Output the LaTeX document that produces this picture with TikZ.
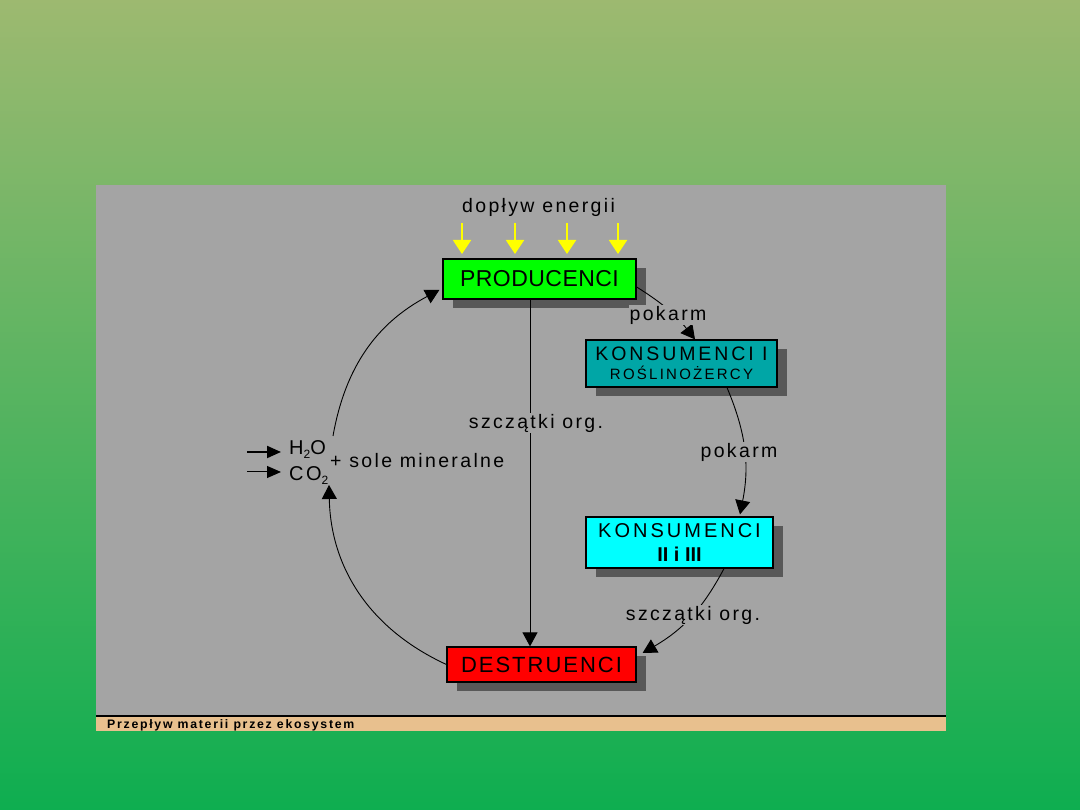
\documentclass[tikz,border=0pt]{standalone}
\usepackage{fontspec}
\setmainfont{Liberation Sans}
\newfontfamily\fA[LetterSpace=2]{Liberation Sans}
\newfontfamily\fB[LetterSpace=15]{Liberation Sans}
\newfontfamily\fC[LetterSpace=9]{Liberation Sans}
\newfontfamily\fL[LetterSpace=12]{Liberation Sans}
\newfontfamily\fF[LetterSpace=14]{Liberation Sans}
\usetikzlibrary{arrows.meta,shadows}
\definecolor{panel}{RGB}{164,164,164}
\definecolor{tanbar}{RGB}{232,192,142}
\definecolor{shadowc}{RGB}{88,88,88}
\definecolor{tealbox}{RGB}{0,166,166}
\definecolor{cyanbox}{RGB}{0,255,255}
\definecolor{greenbox}{RGB}{0,255,0}
\definecolor{redbox}{RGB}{255,0,0}
\definecolor{sunyellow}{RGB}{255,255,0}
\definecolor{gtop}{RGB}{157,185,112}
\definecolor{gbot}{RGB}{14,174,80}
\begin{document}
\begin{tikzpicture}[x=1pt,y=1pt,
  box/.style={draw=black,line width=1.2pt,inner sep=0pt,align=center,
    drop shadow={shadow xshift=10pt,shadow yshift=-9pt,opacity=1,fill=shadowc,draw=none}},
  conn/.style={line width=0.9pt,-{Triangle[width=15pt,length=14pt]}},
  lbl/.style={fill=panel,inner sep=1pt,font=\fL\fontsize{19.5}{22}\selectfont},
  txt/.style={anchor=base west,inner sep=0pt,font=\fL\fontsize{19.5}{22}\selectfont},
  sun/.style={sunyellow,line width=2pt,-{Triangle[width=18pt,length=14pt]}},
  small/.style={-{Triangle[width=12pt,length=14pt]}},
]
\useasboundingbox (0,0) rectangle (1080,810);
\shade[top color=gtop,bottom color=gbot] (0,0) rectangle (1080,810);
\fill[panel] (96,94) rectangle (946,625);
\fill[tanbar] (96,79) rectangle (946,94);
\draw[line width=1.5pt] (96,94) -- (946,94);

% boxes
\node[box,fill=greenbox,minimum width=193,minimum height=40,font=\fA\fontsize{23}{26}\selectfont] (prod) at (539.5,531) {PRODUCENCI};
\node[box,fill=tealbox,minimum width=191,minimum height=47,font=\fB\fontsize{19.5}{19}\selectfont] (k1) at (681.5,446.5)
  {KONSUMENCI I\\{\fontsize{15}{19}\selectfont ROŚLINOŻERCY}};
\node[box,fill=cyanbox,minimum width=187,minimum height=51,font=\fB\fontsize{20}{24}\selectfont] (k2) at (679.5,267.5)
  {KONSUMENCI\\{\rmfamily\bfseries\fontsize{20}{24}\selectfont II i III}};
\node[box,fill=redbox,minimum width=189,minimum height=35,font=\fC\fontsize{22}{24}\selectfont] (dest) at (541.5,145.5) {DESTRUENCI};

% energy input
\node[txt] (energy) at (462,597) {dopływ energii};
\foreach \x [count=\i] in {462,515,567,618}{
  \coordinate (s\i a) at (\x,587);
  \coordinate (s\i b) at (\x,556);
  \draw[sun] (s\i a) -- (s\i b);
}

% vertical connector
\draw[conn] ([xshift=-9.5pt]prod.south) -- ([xshift=-11.5pt]dest.north);
\node[lbl] (org1) at (536,387) {szczątki org.};

% right chain
\draw[conn] ([yshift=-8pt]prod.east) to[bend left=10] ([xshift=13.5pt]k1.north);
\node[lbl] (pok1) at (668,495) {pokarm};
\draw[conn] ([xshift=45.5pt]k1.south) to[bend left=17] ([xshift=60.5pt,yshift=2pt]k2.north);
\node[lbl] (pok2) at (739,358) {pokarm};
\draw[conn] ([xshift=44.5pt]k2.south) to[bend left=16] ([xshift=6pt,yshift=11.5pt]dest.east);
\node[lbl] (org2) at (693,195) {szczątki org.};

% minerals
\node[txt,font=\fL\fontsize{20}{22}\selectfont] (h2o) at (289,355) {H\raisebox{-4pt}{\fontsize{12}{12}\selectfont 2}O};
\node[txt,font=\fL\fontsize{20}{22}\selectfont] (co2) at (289,329) {CO\raisebox{-4pt}{\fontsize{12}{12}\selectfont 2}};
\node[txt] (sole) at (330,342) {+ sole mineralne};
\coordinate (wtop) at (333,374);
\coordinate (wbot) at (329,325);
\draw[conn] (wtop) to[bend left=26] ([xshift=-3pt,yshift=-11pt]prod.west);
\draw[conn] (dest.west) to[bend left=32] (wbot);
\coordinate (in1a) at (247,358); \coordinate (in1b) at (281,358);
\coordinate (in2a) at (247,338); \coordinate (in2b) at (281,338);
\draw[small,line width=2pt] (in1a) -- (in1b);
\draw[small,line width=1pt] (in2a) -- (in2b);

% footer
\node[anchor=base west,inner sep=0pt,font=\fF\bfseries\fontsize{12.3}{14}\selectfont] (foot) at (107,81) {Przepływ materii przez ekosystem};
\end{tikzpicture}
\end{document}
